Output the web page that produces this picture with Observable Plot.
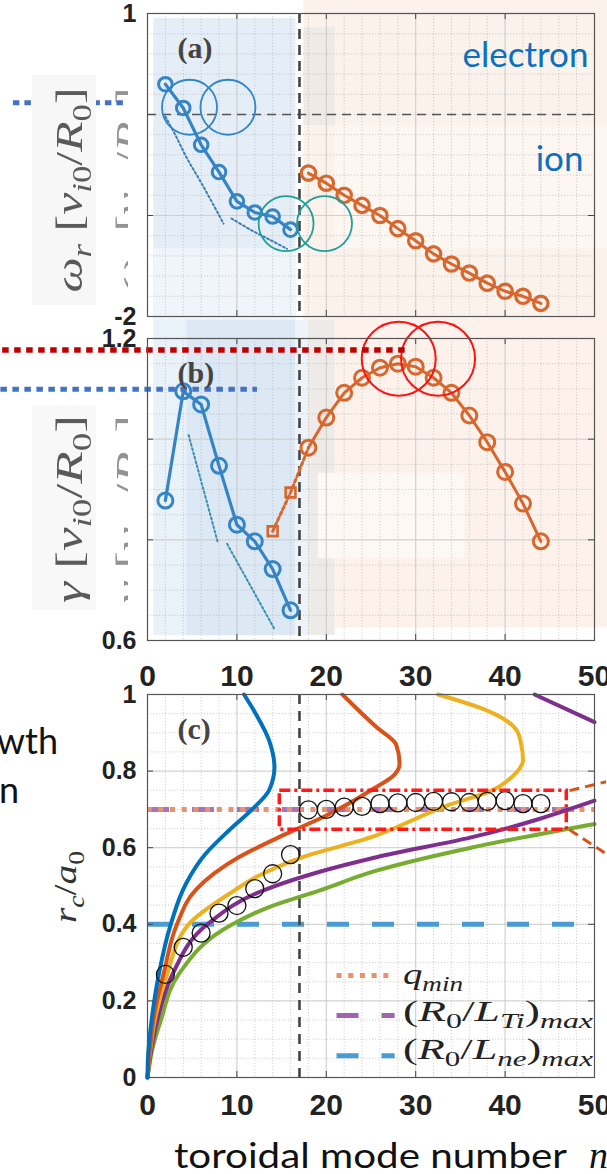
<!DOCTYPE html>
<html><head><meta charset="utf-8">
<script src="https://cdn.jsdelivr.net/npm/d3@7"></script>
<script src="https://cdn.jsdelivr.net/npm/@observablehq/plot@0.6"></script>
<style>
html,body{margin:0;padding:0;background:#fff;}
#wrap{position:relative;width:607px;height:1174px;overflow:hidden;background:#fff;}
</style></head><body><div id="wrap"></div>
<script>
// ---------------- data ----------------
const nTicks = [0, 10, 20, 30, 40, 50];
const nBoundary = 17;
const nElectron = [2, 4, 6, 8, 10, 12, 14, 16];
const nIon = [18, 20, 22, 24, 26, 28, 30, 32, 34, 36, 38, 40, 42, 44];
// (a) real frequency
const omegaElectron = [0.30, 0.065, -0.30, -0.57, -0.86, -0.97, -1.01, -1.14];
const omegaIon = [-0.58, -0.68, -0.80, -0.90, -1.00, -1.13, -1.25, -1.38, -1.48, -1.57, -1.67, -1.75, -1.80, -1.87];
const omegaTrend1 = [[2.0, -0.02], [3.1, -0.20], [4.4, -0.43], [6.1, -0.69], [7.9, -0.98], [8.5, -1.08]];
const omegaTrend2 = [[9.4, -1.03], [11.7, -1.15], [13.9, -1.25], [15.6, -1.33]];
const omegaTicksLabel = [1, -2];
const omegaTicks = [1, 0, -1, -2];
// (b) growth rate
const gammaElectron = [0.878, 1.095, 1.069, 0.947, 0.830, 0.797, 0.742, 0.660];
const gammaIon = [0.983, 1.043, 1.092, 1.122, 1.142, 1.150, 1.144, 1.122, 1.092, 1.047, 0.994, 0.935, 0.872, 0.797];
const nSquare = [14, 16];
const gammaSquare = [0.817, 0.894];
const gammaTrend1 = [[4.6, 1.008], [7.85, 0.796]];
const gammaTrend2 = [[8.9, 0.792], [14.2, 0.623]];
const gammaTicksLabel = [1.2, 0.6];
const gammaTicks = [1.2, 1.0, 0.8, 0.6];
// (c) mode location
const rcElectron = [0.269, 0.340, 0.377, 0.429, 0.449, 0.493, 0.532, 0.582];
const rcIon = [0.699, 0.700, 0.706, 0.708, 0.715, 0.717, 0.718, 0.721, 0.720, 0.718, 0.721, 0.723, 0.715, 0.715];
const rTicks = [0, 0.2, 0.4, 0.6, 0.8, 1];
const curveBlue = [[0,0],[0.05,0.05],[0.5,0.157],[1.27,0.27],[2.6,0.40],[4.3,0.506],[6.5,0.584],[9.1,0.645],[11.7,0.70],[13.6,0.75],[14.2,0.81],[13.6,0.88],[12.1,0.95],[10.8,1.0]];
const curveOrange = [[0,0],[0.3,0.08],[0.8,0.17],[1.8,0.27],[3.3,0.40],[5.4,0.49],[10.2,0.575],[15.5,0.636],[20,0.684],[25,0.75],[27.6,0.79],[28.2,0.82],[27.8,0.87],[25.6,0.915],[21.8,1.0]];
const curveYellow = [[0,0],[0.3,0.07],[0.9,0.16],[2.2,0.27],[4.6,0.40],[9.7,0.488],[12.1,0.523],[17.3,0.575],[25.6,0.632],[27,0.645],[33.5,0.71],[38.5,0.749],[41,0.79],[42,0.828],[41.8,0.87],[41.3,0.906],[38,0.958],[32.5,1.0]];
const curvePurple = [[0,0],[0.4,0.07],[1.2,0.16],[2.8,0.27],[6.7,0.40],[12.9,0.488],[18.5,0.532],[25.6,0.575],[36.2,0.627],[50,0.723]];
const curvePurpleTop = [[43.3,1.0],[50,0.928]];
const curveGreen = [[0,0],[0.5,0.07],[1.5,0.15],[3.5,0.27],[9.5,0.40],[13.6,0.445],[19.2,0.488],[25.6,0.54],[36.2,0.60],[50,0.662]];
const qminR = 0.70, lneR = 0.40, lneEndN = 48.3;
const zoomBox = {x1: 14.8, x2: 46.9, y1: 0.647, y2: 0.749};
const zoomLinks = [{x1: 47.2, y1: 0.749, x2: 51.3, y2: 0.772}, {x1: 47.2, y1: 0.647, x2: 51.3, y2: 0.584}];
const legendRows = [{r: 0.266, key: "qmin"}, {r: 0.162, key: "LTi"}, {r: 0.057, key: "Lne"}];
const legendN = [21.2, 27.7];
// annotations
const blueRings = [[4.7, 0.072], [9.0, 0.072]];
const tealRings = [[15.5, -1.08], [19.8, -1.08]];
const redRings = [[28.1, 1.160], [32.5, 1.160]];
const guideA = [{v: 0.117, n1: -15, n2: -2.2}];
const guideBRed = [{v: 1.177, n1: -16.2, n2: 29.0}];
const guideBBlue = [{v: 1.099, n1: -16.4, n2: 12.3}];
const shadeA = [
  {x1: 0.7, x2: 16.6, y1: 0.95, y2: -2.04, fill: "#e5eef7"},
  {x1: 0.7, x2: 16.6, y1: -1.33, y2: -2.04, fill: "#eff5fa"},
  {x1: 17.5, x2: 51.5, y1: 1.14, y2: -2.04, fill: "#fbf2ec"},
  {x1: 17.5, x2: 21, y1: 0.86, y2: -0.11, fill: "#efeae6"},
  {x1: 21, x2: 51.5, y1: -0.11, y2: -1.33, fill: "#fdf6f1"}
];
const shadeB = [
  {x1: 0.7, x2: 4.4, y1: 1.236, y2: 0.61, fill: "#e9f1f9"},
  {x1: 4.4, x2: 16.6, y1: 1.236, y2: 0.61, fill: "#dce8f4"},
  {x1: 16.6, x2: 18, y1: 1.236, y2: 0.61, fill: "#edf3f9"},
  {x1: 18, x2: 21, y1: 1.236, y2: 0.61, fill: "#eeeae7"},
  {x1: 21, x2: 51.5, y1: 1.236, y2: 0.625, fill: "#fcf2eb"},
  {x1: 19.1, x2: 35.5, y1: 0.932, y2: 0.763, fill: "#fdf8f4"}
];

// ---------------- helpers ----------------
const W = 607, ML = 147, MR = 13, FW = W - ML - MR;
const pts = (ns, vs) => ns.map((n, i) => ({n, v: vs[i]}));
const pairs = arr => arr.map(([n, v]) => ({n, v}));
const nMinor = d3.range(0, 51, 2);
const baseStyle = {background: "transparent", overflow: "visible", fontFamily: "'Liberation Sans', Arial, sans-serif", color: "#222"};
const wrap = document.getElementById("wrap");
function place(svg, top) {
  svg.style.position = "absolute"; svg.style.left = "0px"; svg.style.top = top + "px";
  wrap.appendChild(svg);
}
function shades(arr) { return arr.map(d => Plot.rect([d], {x1: "x1", x2: "x2", y1: "y1", y2: "y2", fill: d.fill})); }
function grid(minorY, majorY) {
  return [
    Plot.ruleX(nMinor, {stroke: "#9a9a9a", strokeOpacity: 0.55, strokeWidth: 0.8, strokeDasharray: "1.2 1.8"}),
    Plot.ruleY(minorY, {stroke: "#9a9a9a", strokeOpacity: 0.55, strokeWidth: 0.8, strokeDasharray: "1.2 1.8"}),
    Plot.ruleX(nTicks, {stroke: "#cfcfcf", strokeWidth: 1}),
    Plot.ruleY(majorY, {stroke: "#cfcfcf", strokeWidth: 1})
  ];
}
function frameTicks(yDom, fh, yT) {
  const kx = 50 * 6 / FW, ky = (yDom[1] - yDom[0]) * 6 / fh;
  return [
    Plot.ruleX(nTicks, {y1: yDom[0], y2: yDom[0] + ky, stroke: "#444"}),
    Plot.ruleX(nTicks, {y1: yDom[1], y2: yDom[1] - ky, stroke: "#444"}),
    Plot.ruleY(yT, {x1: 0, x2: kx, stroke: "#444"}),
    Plot.ruleY(yT, {x1: 50, x2: 50 - kx, stroke: "#444"}),
    Plot.frame({stroke: "#555", strokeWidth: 1.2})
  ];
}
const yLabelAxis = (ticks) => Plot.axisY(ticks, {anchor: "left", tickSize: 0, tickPadding: 11, fontSize: 25, fontWeight: "bold", tickFormat: d => String(d), color: "#222"});
const panelLabel = (s) => Plot.text([s], {text: d => d, frameAnchor: "top-left", dx: 30, dy: 23, fontSize: 30, fontWeight: "bold", fontFamily: "'Liberation Serif', 'DejaVu Serif', serif", fill: "#444", textAnchor: "start"});

const BLUE = "#3585c6", ORANGE = "#d8662d";

// ---------------- panel (a) ----------------
const yA = [-2, 1], hA = 320, mtA = 13, mbA = 4;
const panelA = Plot.plot({
  width: W, height: hA, marginLeft: ML, marginRight: MR, marginTop: mtA, marginBottom: mbA,
  x: {domain: [0, 50], axis: null}, y: {domain: yA, axis: null}, style: baseStyle,
  marks: [
    ...shades(shadeA),
    ...grid(d3.range(-2, 1.001, 0.2), [-1]),
    Plot.ruleY([0], {stroke: "#555", strokeWidth: 1.6, strokeDasharray: "9 6"}),
    Plot.ruleX([nBoundary], {stroke: "#444", strokeWidth: 2.6, strokeDasharray: "10 6"}),
    Plot.line(pairs(omegaTrend1), {x: "n", y: "v", stroke: "#3a7fb8", strokeWidth: 2, strokeDasharray: "2 2.5", curve: "catmull-rom"}),
    Plot.line(pairs(omegaTrend2), {x: "n", y: "v", stroke: "#3a7fb8", strokeWidth: 2, strokeDasharray: "2 2.5", curve: "catmull-rom"}),
    Plot.line(pts(nElectron, omegaElectron), {x: "n", y: "v", stroke: BLUE, strokeWidth: 3.2}),
    Plot.dot(pts(nElectron, omegaElectron), {x: "n", y: "v", r: 6.8, stroke: BLUE, strokeWidth: 3, fill: "none"}),
    Plot.line(pts(nIon, omegaIon), {x: "n", y: "v", stroke: ORANGE, strokeWidth: 3}),
    Plot.dot(pts(nIon, omegaIon), {x: "n", y: "v", r: 7.2, stroke: ORANGE, strokeWidth: 3.2, fill: "none"}),
    Plot.dot(pairs(blueRings), {x: "n", y: "v", r: 27.5, stroke: "#2f86c8", strokeWidth: 1.8, fill: "none"}),
    Plot.dot(pairs(tealRings), {x: "n", y: "v", r: 27.5, stroke: "#1f9f98", strokeWidth: 1.8, fill: "none"}),
    Plot.ruleY(guideA, {y: "v", x1: "n1", x2: "n2", stroke: "#4472c4", strokeWidth: 5, strokeDasharray: "6.5 5"}),
    ...frameTicks(yA, hA - mtA - mbA, omegaTicks),
    yLabelAxis(omegaTicksLabel),
    panelLabel("(a)"),
    Plot.text(["electron"], {text: d => d, frameAnchor: "top-right", dx: -6, dy: 29, fontSize: 35, fontFamily: "Lato, 'Open Sans', sans-serif", fill: "#0a70bf", textAnchor: "end"}),
    Plot.text(["ion"], {text: d => d, frameAnchor: "top-right", dx: -11, dy: 133, fontSize: 35, fontFamily: "Lato, 'Open Sans', sans-serif", fill: "#0a70bf", textAnchor: "end"})
  ]
});
place(panelA, 0);

// ---------------- panel (b) ----------------
const yB = [0.6, 1.2], hB = 330, mtB = 18, mbB = 10;
const panelB = Plot.plot({
  width: W, height: hB, marginLeft: ML, marginRight: MR, marginTop: mtB, marginBottom: mbB,
  x: {domain: [0, 50], axis: null}, y: {domain: yB, axis: null}, style: baseStyle,
  marks: [
    ...shades(shadeB),
    ...grid(d3.range(0.6, 1.2001, 0.05), [0.8, 1.0]),
    Plot.ruleX([nBoundary], {stroke: "#444", strokeWidth: 2.6, strokeDasharray: "10 6"}),
    Plot.line(pairs(gammaTrend1), {x: "n", y: "v", stroke: "#3a8fb0", strokeWidth: 2, strokeDasharray: "2 2.5"}),
    Plot.line(pairs(gammaTrend2), {x: "n", y: "v", stroke: "#3a8fb0", strokeWidth: 2, strokeDasharray: "2 2.5"}),
    Plot.line(pts(nElectron, gammaElectron), {x: "n", y: "v", stroke: BLUE, strokeWidth: 3.2}),
    Plot.dot(pts(nElectron, gammaElectron), {x: "n", y: "v", r: 7.5, stroke: BLUE, strokeWidth: 3, fill: "none"}),
    Plot.line(pts(nSquare, gammaSquare).concat([{n: nIon[0], v: gammaIon[0]}]), {x: "n", y: "v", stroke: ORANGE, strokeWidth: 3, strokeDasharray: "3 3"}),
    Plot.dot(pts(nSquare, gammaSquare), {x: "n", y: "v", symbol: "square", r: 5.5, stroke: ORANGE, strokeWidth: 2.6, fill: "none"}),
    Plot.line(pts(nIon, gammaIon), {x: "n", y: "v", stroke: ORANGE, strokeWidth: 3}),
    Plot.dot(pts(nIon, gammaIon), {x: "n", y: "v", r: 7.5, stroke: ORANGE, strokeWidth: 3, fill: "none"}),
    Plot.dot(pairs(redRings), {x: "n", y: "v", r: 37, stroke: "#ff1111", strokeWidth: 2, fill: "none"}),
    Plot.ruleY(guideBRed, {y: "v", x1: "n1", x2: "n2", stroke: "#c00000", strokeWidth: 5.5, strokeDasharray: "6.5 5.5"}),
    Plot.ruleY(guideBBlue, {y: "v", x1: "n1", x2: "n2", stroke: "#4472c4", strokeWidth: 5, strokeDasharray: "6.5 5.5"}),
    ...frameTicks(yB, hB - mtB - mbB, gammaTicks),
    yLabelAxis(gammaTicksLabel),
    panelLabel("(b)")
  ]
});
place(panelB, 320);

// ---------------- panel (c) ----------------
const yC = [0, 1], hC = 524, mtC = 44, mbC = 97;
const curveStyle = (c) => ({x: "n", y: "v", stroke: c, strokeWidth: 4, curve: "monotone-y"});
const panelC = Plot.plot({
  width: W, height: hC, marginLeft: ML, marginRight: MR, marginTop: mtC, marginBottom: mbC,
  x: {domain: [0, 50], axis: null}, y: {domain: yC, axis: null}, style: baseStyle,
  marks: [
    ...grid(d3.range(0, 1.001, 0.05), rTicks),
    Plot.ruleY([lneR], {x1: 0, x2: lneEndN, stroke: "#4a9bd3", strokeWidth: 5, strokeDasharray: "22 23"}),
    Plot.ruleY([qminR], {x1: 0, x2: 50, stroke: "#a064b2", strokeOpacity: 0.9, strokeWidth: 5, strokeDasharray: "22 23"}),
    Plot.ruleY([qminR], {x1: 0, x2: 50, stroke: "#e8916a", strokeWidth: 5, strokeDasharray: "5 6.7", strokeDashoffset: -23}),
    Plot.ruleX([nBoundary], {stroke: "#444", strokeWidth: 2.6, strokeDasharray: "10 7"}),
    Plot.line(pairs(curveGreen), curveStyle("#77ac30")),
    Plot.line(pairs(curvePurple), curveStyle("#7e2f8e")),
    Plot.line(pairs(curvePurpleTop), curveStyle("#7e2f8e")),
    Plot.line(pairs(curveYellow), curveStyle("#edb120")),
    Plot.line(pairs(curveOrange), curveStyle("#d95319")),
    Plot.line(pairs(curveBlue), curveStyle("#0072bd")),
    Plot.dot(pts(nElectron, rcElectron), {x: "n", y: "v", r: 9, stroke: "#111", strokeWidth: 1.3, fill: "none"}),
    Plot.dot(pts(nIon, rcIon), {x: "n", y: "v", r: 9, stroke: "#111", strokeWidth: 1.3, fill: "none"}),
    Plot.rect([zoomBox], {x1: "x1", x2: "x2", y1: "y1", y2: "y2", fill: "none", stroke: "#ff1a1a", strokeWidth: 3.5, strokeDasharray: "11 4 3 4"}),
    Plot.link(zoomLinks, {x1: "x1", y1: "y1", x2: "x2", y2: "y2", stroke: "#d95319", strokeWidth: 3, strokeDasharray: "10 6"}),
    Plot.ruleY(legendRows.filter(d => d.key === "qmin"), {y: "r", x1: legendN[0], x2: legendN[1], stroke: "#e8916a", strokeWidth: 5, strokeDasharray: "5 6.7"}),
    Plot.ruleY(legendRows.filter(d => d.key === "LTi"), {y: "r", x1: legendN[0], x2: legendN[1], stroke: "#a064b2", strokeWidth: 5, strokeDasharray: "22 23"}),
    Plot.ruleY(legendRows.filter(d => d.key === "Lne"), {y: "r", x1: legendN[0], x2: legendN[1], stroke: "#4a9bd3", strokeWidth: 5, strokeDasharray: "22 23"}),
    ...frameTicks(yC, hC - mtC - mbC, rTicks),
    yLabelAxis(rTicks),
    Plot.axisX(nTicks, {anchor: "top", tickSize: 0, tickPadding: 9, fontSize: 30, fontWeight: "bold", color: "#222"}),
    Plot.axisX(nTicks, {anchor: "bottom", tickSize: 0, tickPadding: 16, fontSize: 30, fontWeight: "bold", color: "#222"}),
    panelLabel("(c)")
  ]
});
place(panelC, 650);

// ---------------- overlay text ----------------
const ov = d3.select(wrap).append("svg").attr("width", 607).attr("height", 1174)
  .style("position", "absolute").style("left", "0px").style("top", "0px").style("pointer-events", "none");
const defs = ov.append("defs");
defs.append("clipPath").attr("id", "ghostClip").append("rect").attr("x", 98).attr("y", 70).attr("width", 30).attr("height", 235);
defs.append("clipPath").attr("id", "ghostClip2").append("rect").attr("x", 98).attr("y", 400).attr("width", 30).attr("height", 215);
defs.append("filter").attr("id", "soft").append("feGaussianBlur").attr("stdDeviation", 0.7);

function math(g, x, y, parts, o) {
  const size = o.size;
  const t = g.append("text").attr("x", x).attr("y", y)
    .attr("font-family", o.family || "'Liberation Serif', 'DejaVu Serif', serif")
    .attr("font-size", size).attr("fill", o.fill || "#333").attr("text-anchor", o.anchor || "start");
  if (o.rotate) t.attr("transform", `rotate(${o.rotate},${x},${y})`);
  if (o.len) t.attr("textLength", o.len).attr("lengthAdjust", "spacingAndGlyphs");
  if (o.opacity) t.attr("opacity", o.opacity);
  if (o.blur) t.attr("filter", "url(#soft)");
  let shifted = false; const d = size * 0.24;
  for (const p of parts) {
    const s = t.append("tspan").text(p.t);
    if (p.i) s.attr("font-style", "italic");
    if (p.sub && !shifted) { s.attr("dy", d); shifted = true; }
    else if (!p.sub && shifted) { s.attr("dy", -d); shifted = false; }
    if (p.sub) s.attr("font-size", size * 0.7);
  }
  return t;
}
const omegaLabel = [{t: "ω", i: 1}, {t: "r", i: 1, sub: 1}, {t: " [", }, {t: "v", i: 1}, {t: "i", i: 1, sub: 1}, {t: "0", sub: 1}, {t: "/"}, {t: "R", i: 1}, {t: "0", sub: 1}, {t: "]"}];
const gammaLabel = [{t: "γ", i: 1}, {t: " [", }, {t: "v", i: 1}, {t: "i", i: 1, sub: 1}, {t: "0", sub: 1}, {t: "/"}, {t: "R", i: 1}, {t: "0", sub: 1}, {t: "]"}];
ov.append("rect").attr("x", 32).attr("y", 75).attr("width", 64).attr("height", 230).attr("fill", "#f7f7f7");
ov.append("rect").attr("x", 32).attr("y", 405).attr("width", 64).attr("height", 205).attr("fill", "#f8f8f8");
math(ov, 82, 190, omegaLabel, {size: 38, anchor: "middle", rotate: -90, len: 205, fill: "#5a5a5a", blur: 1});
math(ov.append("g").attr("clip-path", "url(#ghostClip)"), 142, 190, omegaLabel, {size: 38, anchor: "middle", rotate: -90, len: 205, fill: "#666", opacity: 0.7, blur: 1});
math(ov, 82, 509, gammaLabel, {size: 38, anchor: "middle", rotate: -90, len: 188, fill: "#5a5a5a", blur: 1});
math(ov.append("g").attr("clip-path", "url(#ghostClip2)"), 142, 509, gammaLabel, {size: 38, anchor: "middle", rotate: -90, len: 188, fill: "#666", opacity: 0.7, blur: 1});
math(ov, 76, 887, [{t: "r", i: 1}, {t: "c", i: 1, sub: 1}, {t: "/"}, {t: "a", i: 1}, {t: "0", sub: 1}], {size: 32, anchor: "middle", rotate: -90, len: 72, fill: "#333"});
// legend labels (c)
math(ov, 403, 984, [{t: "q", i: 1}, {t: "min", i: 1, sub: 1}], {size: 29, len: 60, fill: "#222"});
math(ov, 403, 1021, [{t: "("}, {t: "R", i: 1}, {t: "0", sub: 1}, {t: "/"}, {t: "L", i: 1}, {t: "Ti", i: 1, sub: 1}, {t: ")"}, {t: "max", i: 1, sub: 1}], {size: 30, len: 190, fill: "#222"});
math(ov, 403, 1059, [{t: "("}, {t: "R", i: 1}, {t: "0", sub: 1}, {t: "/"}, {t: "L", i: 1}, {t: "ne", i: 1, sub: 1}, {t: ")"}, {t: "max", i: 1, sub: 1}], {size: 30, len: 190, fill: "#222"});
// slide fragments and x label
ov.append("text").attr("x", 58).attr("y", 754).attr("text-anchor", "end").attr("font-family", "Lato, 'Open Sans', sans-serif").attr("font-size", 36).attr("fill", "#111").text("wth");
ov.append("text").attr("x", 19).attr("y", 803).attr("text-anchor", "end").attr("font-family", "Lato, 'Open Sans', sans-serif").attr("font-size", 36).attr("fill", "#111").text("n");
ov.append("text").attr("x", 174).attr("y", 1168).attr("font-family", "Lato, 'Open Sans', sans-serif").attr("font-size", 34).attr("fill", "#111").attr("textLength", 393).attr("lengthAdjust", "spacingAndGlyphs").text("toroidal mode number");
ov.append("text").attr("x", 589).attr("y", 1168).attr("font-family", "'Liberation Serif', serif").attr("font-style", "italic").attr("font-size", 38).attr("fill", "#111").text("n");
</script></body></html>
